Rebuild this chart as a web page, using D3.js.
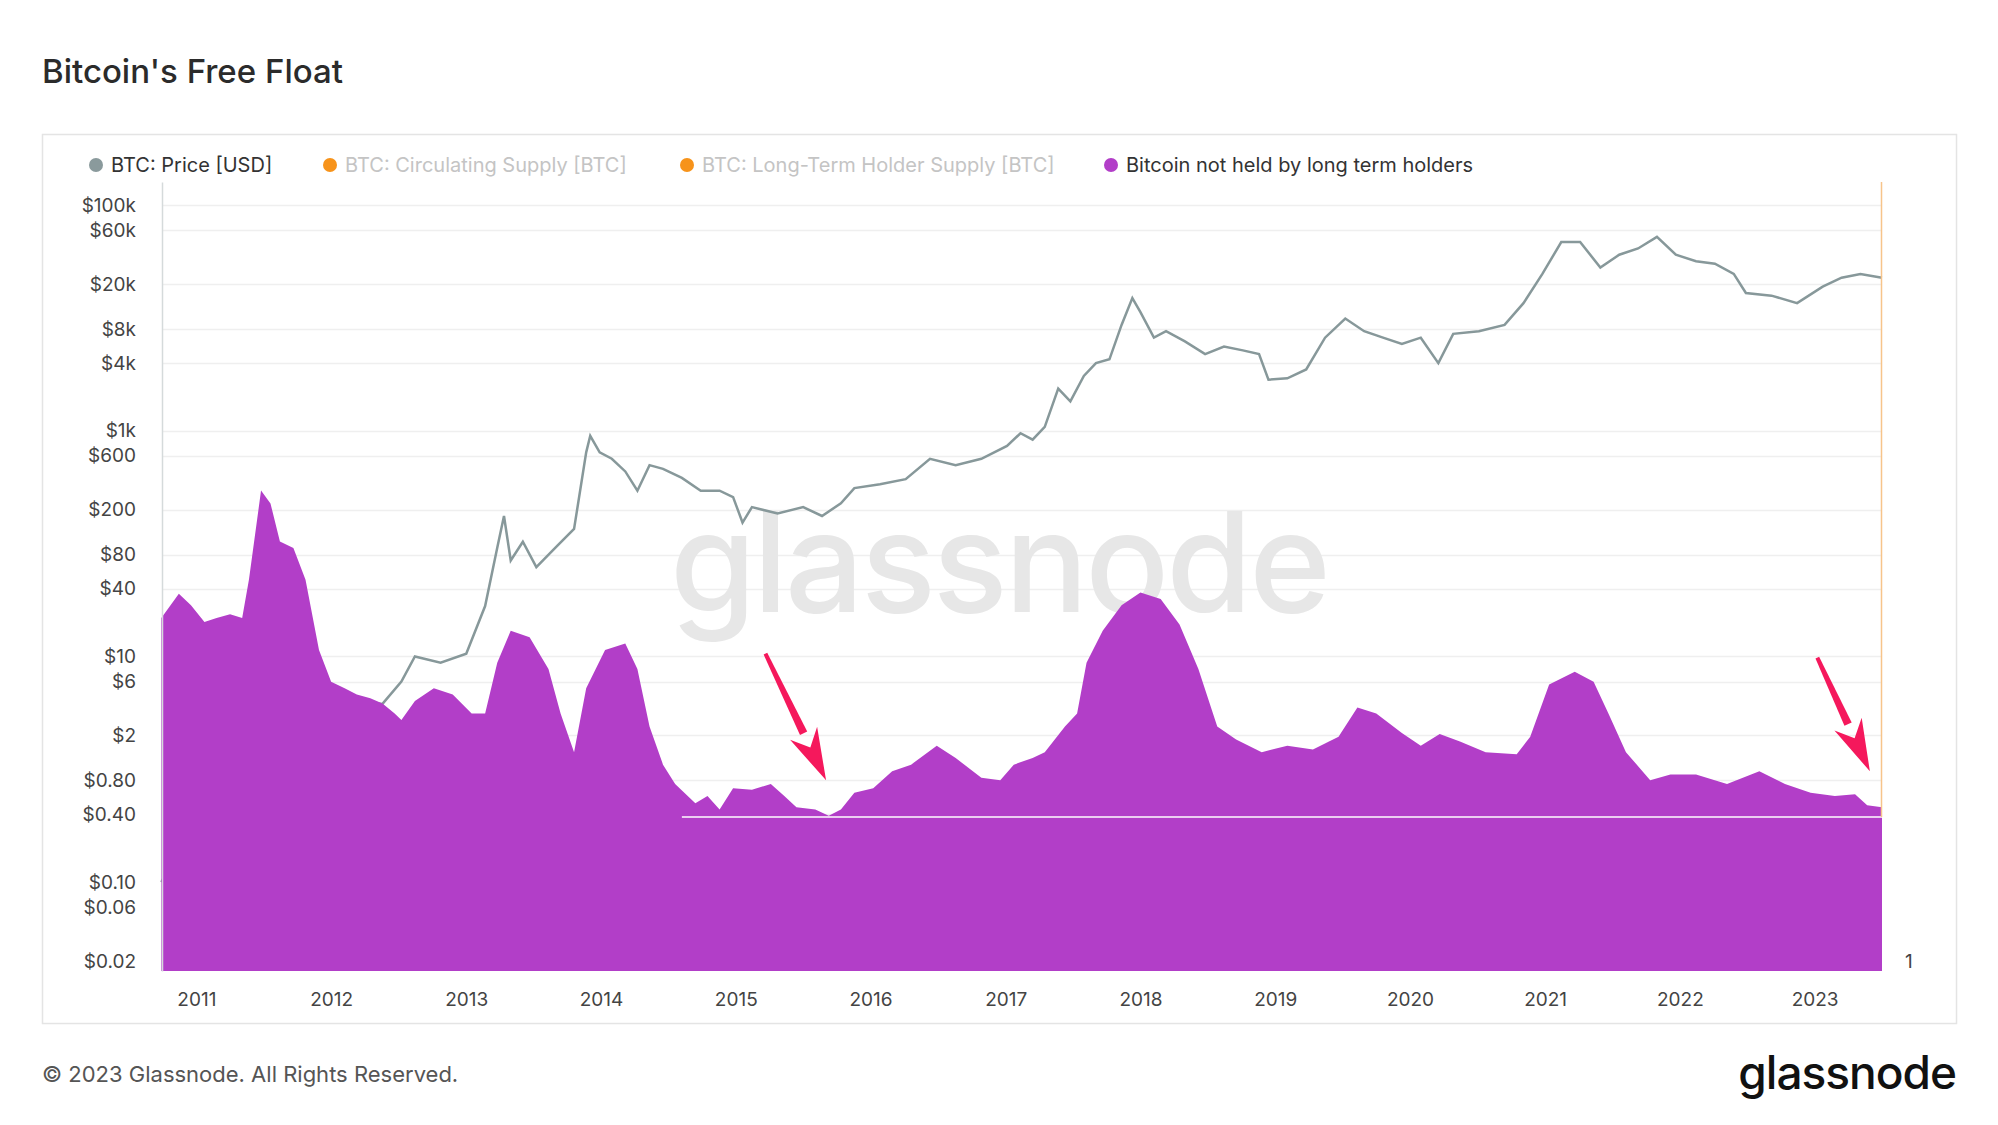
<!DOCTYPE html><html>
<head>
<meta charset="utf-8">
<script src="https://cdnjs.cloudflare.com/ajax/libs/d3/7.8.5/d3.min.js"></script>
<style>
  body { margin: 0; background: #fff; }
  text { font-family: Inter, "Noto Sans", sans-serif; }
</style>
</head>
<body>
<svg id="chart" width="1998" height="1125"></svg>
<script>
// decimal years
var priceYears = [2010.74, 2010.96, 2011.2, 2011.45, 2011.6, 2011.9, 2012.0, 2012.2, 2012.38, 2012.52, 2012.62, 2012.81, 2013.0, 2013.14, 2013.23, 2013.28, 2013.33, 2013.42, 2013.52, 2013.66, 2013.80, 2013.89, 2013.92, 2013.99, 2014.08, 2014.18, 2014.27, 2014.36, 2014.46, 2014.60, 2014.74, 2014.88, 2014.98, 2015.05, 2015.12, 2015.31, 2015.50, 2015.64, 2015.78, 2015.88, 2016.07, 2016.26, 2016.44, 2016.63, 2016.82, 2017.01, 2017.11, 2017.20, 2017.29, 2017.39, 2017.48, 2017.58, 2017.67, 2017.77, 2017.86, 2017.94, 2018.0, 2018.10, 2018.19, 2018.33, 2018.48, 2018.62, 2018.76, 2018.88, 2018.95, 2019.09, 2019.23, 2019.37, 2019.52, 2019.66, 2019.80, 2019.94, 2020.08, 2020.21, 2020.32, 2020.51, 2020.70, 2020.84, 2020.98, 2021.12, 2021.26, 2021.41, 2021.55, 2021.69, 2021.83, 2021.97, 2022.12, 2022.26, 2022.40, 2022.49, 2022.68, 2022.87, 2023.06, 2023.20, 2023.34, 2023.50];
var priceUsd = [0.1, 0.3, 0.9, 28, 13, 3, 5, 4, 3.8, 6.0, 10, 8.8, 10.6, 28, 92, 176, 71, 104, 62, 92, 135, 645, 904, 645, 566, 437, 295, 497, 460, 383, 295, 295, 259, 154, 211, 185, 211, 176, 228, 311, 337, 373, 566, 497, 566, 735, 953, 836, 1085, 2366, 1826, 3072, 3982, 4308, 8692, 15030, 11270, 6700, 7640, 6210, 4790, 5590, 5170, 4790, 2840, 2920, 3500, 6700, 9910, 7640, 6700, 5890, 6700, 3982, 7250, 7640, 8692, 13550, 24620, 47200, 47200, 28060, 36400, 41400, 52400, 36400, 31900, 30300, 24620, 16670, 15800, 13550, 18970, 22800, 24620, 22800];

var floatYears = [2010.74, 2010.87, 2010.96, 2011.06, 2011.15, 2011.25, 2011.34, 2011.39, 2011.48, 2011.55, 2011.62, 2011.72, 2011.81, 2011.91, 2012.00, 2012.10, 2012.19, 2012.29, 2012.38, 2012.47, 2012.52, 2012.62, 2012.76, 2012.90, 2013.04, 2013.14, 2013.23, 2013.33, 2013.47, 2013.61, 2013.70, 2013.80, 2013.89, 2014.03, 2014.18, 2014.27, 2014.36, 2014.46, 2014.55, 2014.70, 2014.79, 2014.88, 2014.98, 2015.12, 2015.26, 2015.36, 2015.45, 2015.59, 2015.69, 2015.78, 2015.88, 2016.02, 2016.16, 2016.30, 2016.49, 2016.63, 2016.82, 2016.96, 2017.06, 2017.20, 2017.29, 2017.44, 2017.53, 2017.60, 2017.72, 2017.86, 2018.00, 2018.15, 2018.29, 2018.43, 2018.57, 2018.71, 2018.90, 2019.09, 2019.28, 2019.47, 2019.61, 2019.75, 2019.94, 2020.08, 2020.22, 2020.37, 2020.56, 2020.79, 2020.89, 2021.03, 2021.22, 2021.36, 2021.47, 2021.60, 2021.78, 2021.93, 2022.12, 2022.35, 2022.59, 2022.78, 2022.97, 2023.15, 2023.30, 2023.39, 2023.50];
var notHeldByLth = [1096, 1795, 1421, 1013, 1096, 1184, 1096, 2392, 14770, 11380, 5222, 4580, 2392, 572, 298, 262, 230, 213, 192, 156, 137, 202, 262, 230, 156, 156, 441, 845, 741, 387, 156, 71, 262, 572, 651, 387, 120, 55, 37, 25, 29, 22, 34, 33, 37, 29, 23, 22, 19.4, 22, 31, 34, 48, 55, 81, 63, 42, 40, 55, 63, 71, 120, 156, 441, 845, 1421, 1845, 1618, 962, 387, 120, 92, 71, 81, 75, 97, 177, 156, 105, 81, 103, 88, 71, 68, 97, 283, 367, 298, 156, 71, 40, 45, 45, 37, 48, 37, 31, 29, 30, 24, 23];

var lthLineYears = [2014.6, 2023.5];
var lthLineValue = [18.9, 18.9];

var yTicks = [100000, 60000, 20000, 8000, 4000, 1000, 600, 200, 80, 40, 10, 6, 2, 0.8, 0.4, 0.1, 0.06, 0.02];
var yTickLabels = ["$100k", "$60k", "$20k", "$8k", "$4k", "$1k", "$600", "$200", "$80", "$40", "$10", "$6", "$2", "$0.80", "$0.40", "$0.10", "$0.06", "$0.02"];
var xTicks = [2011, 2012, 2013, 2014, 2015, 2016, 2017, 2018, 2019, 2020, 2021, 2022, 2023];

var legendNames = ["BTC: Price [USD]", "BTC: Circulating Supply [BTC]", "BTC: Long-Term Holder Supply [BTC]", "Bitcoin not held by long term holders"];
var legendDots = ["#8a9a9c", "#f7931a", "#f7931a", "#b23ec8"];
var legendText = ["#333", "#c4c4c4", "#c4c4c4", "#333"];
var legendX = [96, 330, 687, 1111];

var svg = d3.select("#chart");
var plotLeft = 162, plotRight = 1882, plotTop = 182, plotBottom = 971;

function yearToDate(y) {
    var yr = Math.floor(y);
    var start = new Date(yr, 0, 1), end = new Date(yr + 1, 0, 1);
    return new Date(+start + (y - yr) * (end - start));
}

var x = d3.scaleTime().domain([yearToDate(2010.745), yearToDate(2023.5)]).range([plotLeft, plotRight]);
var y = d3.scaleLog().domain([0.0163, 160700]).range([plotBottom, plotTop]);
var yR = d3.scaleLog().domain([0.815, 8035000]).range([plotBottom, plotTop]);

// title + frame
svg.append("text").attr("x", 42).attr("y", 83).attr("font-size", 33).attr("font-weight", 500)
   .attr("fill", "#2b2b2b").text("Bitcoin's Free Float");
svg.append("rect").attr("x", 42.5).attr("y", 134.5).attr("width", 1914).attr("height", 889)
   .attr("fill", "none").attr("stroke", "#e4e4e4").attr("stroke-width", 1.5);

// legend
legendNames.forEach(function(n, i) {
    svg.append("circle").attr("cx", legendX[i]).attr("cy", 165).attr("r", 7).attr("fill", legendDots[i]);
    svg.append("text").attr("x", legendX[i] + 15).attr("y", 172).attr("font-size", 20)
       .attr("fill", legendText[i]).text(n);
});

// grid
svg.append("g").selectAll("line").data(yTicks).enter().append("line")
   .attr("x1", plotLeft).attr("x2", plotRight)
   .attr("y1", function(d){ return Math.round(y(d)) + 0.5; })
   .attr("y2", function(d){ return Math.round(y(d)) + 0.5; })
   .attr("stroke", "#efefef").attr("stroke-width", 1.5);

// watermark
svg.append("text").attr("x", x(yearToDate(2016.95))).attr("y", 612).attr("text-anchor", "middle")
   .attr("font-size", 139).attr("font-weight", 500).attr("fill", "#e7e7e7").attr("letter-spacing", -3)
   .text("glassnode");

// price line
var priceData = priceYears.map(function(t, i){ return [yearToDate(t), priceUsd[i]]; });
svg.append("path").datum(priceData)
   .attr("d", d3.line().x(function(d){ return x(d[0]); }).y(function(d){ return y(d[1]); }))
   .attr("fill", "none").attr("stroke", "#87989a").attr("stroke-width", 2.5);

// free float area
var floatData = floatYears.map(function(t, i){ return [yearToDate(t), notHeldByLth[i]]; });
svg.append("path").datum(floatData)
   .attr("d", d3.area().x(function(d){ return x(d[0]); }).y0(plotBottom).y1(function(d){ return yR(d[1]); }))
   .attr("fill", "#b23ec8");

// thin white supply line
var lthData = lthLineYears.map(function(t, i){ return [yearToDate(t), lthLineValue[i]]; });
svg.append("path").datum(lthData)
   .attr("d", d3.line().x(function(d){ return x(d[0]); }).y(function(d){ return yR(d[1]); }))
   .attr("stroke", "#fff").attr("stroke-width", 1.5);

// orange edge at the right end
svg.append("line").attr("x1", plotRight - 0.5).attr("x2", plotRight - 0.5).attr("y1", plotTop).attr("y2", yR(18.9))
   .attr("stroke", "#f7c48a").attr("stroke-width", 1.5);

// axes
var yAxis = svg.append("g").attr("transform", "translate(" + plotLeft + ",0)")
   .call(d3.axisLeft(y).tickValues(yTicks).tickSize(0).tickPadding(26)
         .tickFormat(function(d, i){ return yTickLabels[i]; }));
yAxis.select(".domain").attr("stroke", "#d5dadb").attr("stroke-width", 1.5);
yAxis.selectAll("text").attr("font-size", 19).attr("fill", "#444").attr("font-family", "Inter, sans-serif");

var xAxis = svg.append("g").attr("transform", "translate(0," + plotBottom + ")")
   .call(d3.axisBottom(x).tickValues(xTicks.map(function(t){ return yearToDate(t); }))
         .tickSize(0).tickPadding(22).tickFormat(d3.timeFormat("%Y")));
xAxis.select(".domain").remove();
xAxis.selectAll("text").attr("font-size", 19).attr("fill", "#444").attr("font-family", "Inter, sans-serif");

svg.append("text").attr("x", plotRight + 23).attr("y", yR(1) + 7).attr("font-size", 19).attr("fill", "#444").text("1");

// arrows
var arrows = [[2015.22, 529, 2015.67, 40], [2023.02, 489, 2023.41, 48]];
arrows.forEach(function(a) {
    var x1 = x(yearToDate(a[0])), y1 = yR(a[1]), x2 = x(yearToDate(a[2])), y2 = yR(a[3]);
    var ang = Math.atan2(y2 - y1, x2 - x1), len = 52, w = 15;
    var bx = x2 - len * Math.cos(ang), by = y2 - len * Math.sin(ang);
    var px = -Math.sin(ang), py = Math.cos(ang);
    svg.append("path").attr("d", "M" + (x1 - px * 2) + "," + (y1 - py * 2) + "L" + (x1 + px * 2) + "," + (y1 + py * 2) +
        "L" + (bx + px * 4) + "," + (by + py * 4) + "L" + (bx - px * 4) + "," + (by - py * 4) + "Z")
       .attr("fill", "#f5185c");
    svg.append("path").attr("d", "M" + x2 + "," + y2 + "L" + (bx + px * w) + "," + (by + py * w) +
        "L" + (bx + 0.3 * (x2 - bx)) + "," + (by + 0.3 * (y2 - by)) + "L" + (bx - px * w) + "," + (by - py * w) + "Z")
       .attr("fill", "#f5185c");
});

// footer
svg.append("text").attr("x", 42).attr("y", 1082).attr("font-size", 22).attr("fill", "#555")
   .text("© 2023 Glassnode. All Rights Reserved.");
svg.append("text").attr("x", 1956).attr("y", 1089).attr("text-anchor", "end").attr("font-size", 46)
   .attr("font-weight", 500).attr("letter-spacing", -1).attr("fill", "#111").text("glassnode");
</script>
</body>
</html>
